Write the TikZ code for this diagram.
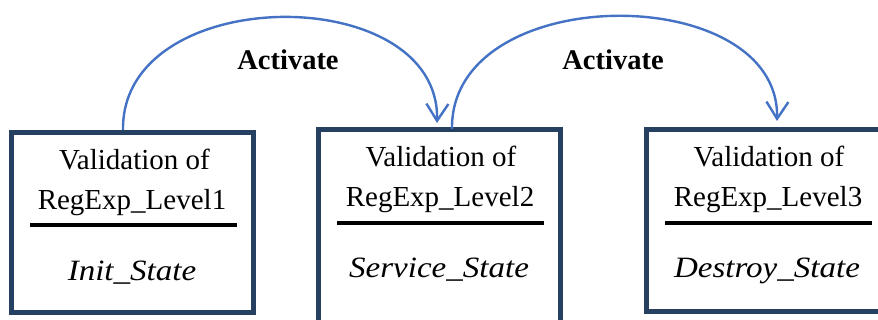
\documentclass[tikz,border=0pt]{standalone}
\usepackage{fontspec}
\setmainfont{Liberation Serif}
\newfontfamily\stfont[FakeStretch=1.12]{Liberation Serif Italic}
\usetikzlibrary{arrows.meta}
\definecolor{navy}{RGB}{38,64,98}
\definecolor{arrowblue}{RGB}{68,114,196}
\begin{document}
\begin{tikzpicture}[x=1pt,y=-1pt,
  box/.style={draw=navy,line width=5pt,minimum width=#1,inner sep=0pt,outer sep=0pt},
  txt/.style={anchor=base,inner sep=0pt,font=\fontsize{29}{34}\selectfont},
  sttxt/.style={anchor=base,inner sep=0pt,font=\fontsize{29.5}{34}\selectfont\stfont},
  lbl/.style={anchor=base,inner sep=0pt,font=\fontsize{28.5}{34}\selectfont\bfseries},
  sep/.style={line width=3.3pt,black},
  act/.style={draw=arrowblue,line width=2.4pt,-{Straight Barb[length=17pt,width=22pt,line width=2.4pt]}}]
\useasboundingbox (0,0) rectangle (878,320);
\begin{scope}
\clip (0,0) rectangle (878,320);
\node[box=241.5pt,minimum height=180pt] (b1) at (132.25,222.5) {};
\node[box=242pt,minimum height=205pt] (b2) at (439.5,232) {};
\node[box=245pt,minimum height=182.5pt] (b3) at (769,220.75) {};
\end{scope}
% box 1
\node[txt] (t1a) at (134.5,170) {Validation of};
\node[txt] (t1b) at (132,210) {RegExp\_Level1};
\draw[sep] (30,225) -- (237,225);
\node[sttxt] (t1c) at (132,280) {Init\_State};
% box 2
\node[txt] (t2a) at (441,167) {Validation of};
\node[txt] (t2b) at (440,207) {RegExp\_Level2};
\draw[sep] (337,223) -- (544,223);
\node[sttxt] (t2c) at (439,278) {Service\_State};
% box 3
\node[txt] (t3a) at (769,167) {Validation of};
\node[txt] (t3b) at (768,207) {RegExp\_Level3};
\draw[sep] (665,223) -- (872,223);
\node[sttxt] (t3c) at (767,278) {Destroy\_State};
% labels
\node[lbl] (l1) at (288,70) {Activate};
\node[lbl] (l2) at (613,70) {Activate};
% arrows
\coordinate (s1) at (123,130);
\coordinate (e1) at (437,123);
\coordinate (s2) at (452,129);
\coordinate (e2) at (777,121);
\draw[act] (s1) .. controls (121,-18) and (440,-20) .. (e1);
\draw[act] (s2) .. controls (450,-20) and (780,-20) .. (e2);
\end{tikzpicture}
\end{document}
